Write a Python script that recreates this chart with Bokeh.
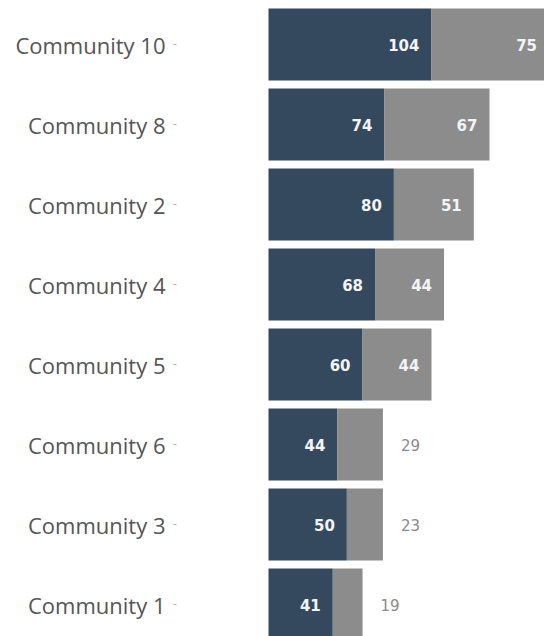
from bokeh.plotting import figure
from bokeh.models import ColumnDataSource, LabelSet, FixedTicker, Range1d
from bokeh.core.properties import value
from bokeh.embed import file_html
from bokeh.resources import INLINE

categories = ["Community 10", "Community 8", "Community 2", "Community 4",
              "Community 5", "Community 6", "Community 3", "Community 1"]
dark_values = [104, 74, 80, 68, 60, 44, 50, 41]
gray_values = [75, 67, 51, 44, 44, 29, 23, 19]

n = len(categories)
ypos = [n - 1 - i for i in range(n)]
totals = [d + g for d, g in zip(dark_values, gray_values)]

src = ColumnDataSource(dict(
    y=ypos, dark=dark_values, gray=gray_values, total=totals,
    dark_lbl=[str(v) for v in dark_values],
))

inside_idx = [i for i, g in enumerate(gray_values) if g >= 40]
outside_idx = [i for i, g in enumerate(gray_values) if g < 40]
src_in = ColumnDataSource(dict(
    y=[ypos[i] for i in inside_idx], total=[totals[i] for i in inside_idx],
    lbl=[str(gray_values[i]) for i in inside_idx]))
src_out = ColumnDataSource(dict(
    y=[ypos[i] for i in outside_idx], total=[totals[i] for i in outside_idx],
    lbl=[str(gray_values[i]) for i in outside_idx]))

p = figure(width=544, height=636, output_backend="svg", toolbar_location=None,
           x_range=Range1d(-58.7, 176.1), y_range=Range1d(-0.4, 7.55),
           min_border_left=176, min_border_right=0, min_border_top=0,
           min_border_bottom=0)

DARK = "#34495e"
GRAY = "#8c8c8c"
NUM_FONT = value("DejaVu Sans")

p.hbar(y="y", left=0, right="dark", height=0.9, source=src,
       fill_color=DARK, line_color=None)
p.hbar(y="y", left="dark", right="total", height=0.9, source=src,
       fill_color=GRAY, line_color=None)

p.add_layout(LabelSet(x="dark", y="y", text="dark_lbl", source=src,
                      x_offset=-12, text_align="right", text_baseline="middle",
                      text_color="#f2f4f7", text_font_size="15px",
                      text_font_style="bold", text_font=NUM_FONT))
p.add_layout(LabelSet(x="total", y="y", text="lbl", source=src_in,
                      x_offset=-12, text_align="right", text_baseline="middle",
                      text_color="#f2f4f7", text_font_size="15px",
                      text_font_style="bold", text_font=NUM_FONT))
p.add_layout(LabelSet(x="total", y="y", text="lbl", source=src_out,
                      x_offset=18, text_align="left", text_baseline="middle",
                      text_color="#8a8a8a", text_font_size="15px",
                      text_font=NUM_FONT))

p.xaxis.visible = False
p.yaxis.ticker = FixedTicker(ticks=ypos)
p.yaxis.major_label_overrides = {y: c for y, c in zip(ypos, categories)}
p.yaxis.axis_line_color = None
p.yaxis.major_tick_in = 0
p.yaxis.major_tick_out = 3
p.yaxis.major_tick_line_color = "#b0b0b0"
p.yaxis.minor_tick_line_color = None
p.yaxis.major_label_standoff = 8
p.yaxis.major_label_text_font = "Open Sans"
p.yaxis.major_label_text_font_size = "22px"
p.yaxis.major_label_text_color = "#555555"
p.xgrid.grid_line_color = None
p.ygrid.grid_line_color = None
p.outline_line_color = None
p.background_fill_color = "white"
p.border_fill_color = "white"

open("out.html", "w").write(file_html(p, INLINE))
